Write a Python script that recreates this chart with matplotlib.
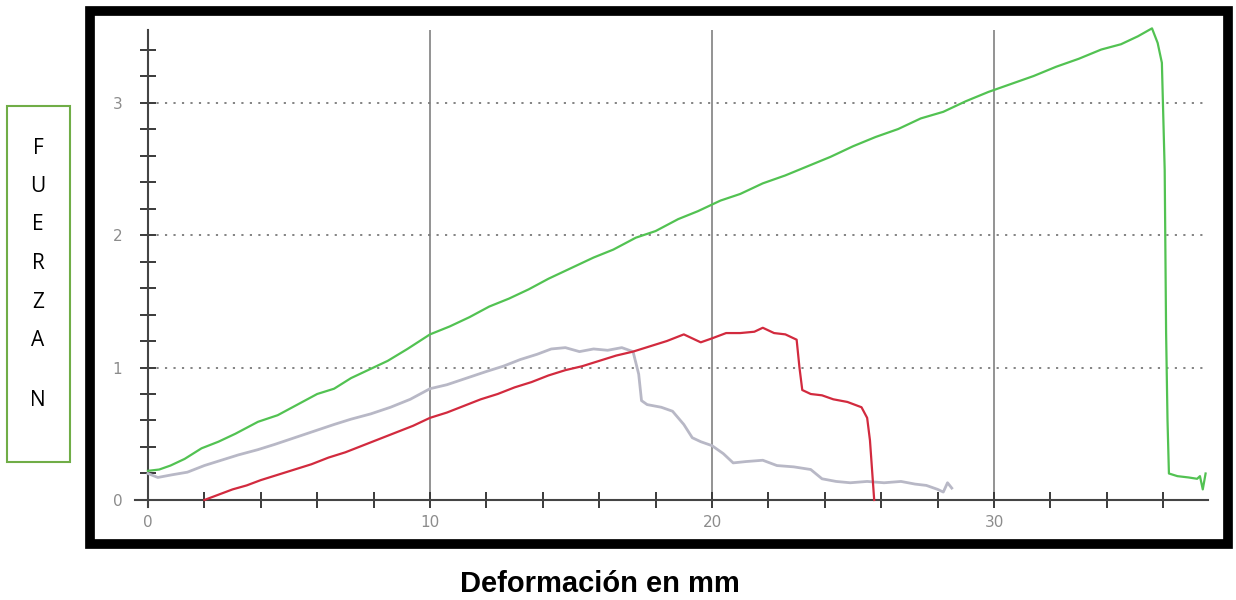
import numpy as np
import matplotlib
matplotlib.use("Agg")
import matplotlib.pyplot as plt
from matplotlib.patches import Rectangle

# --- data (deformation in mm, force in N) ---
green_x = [0.0, 0.4, 0.8, 1.3, 1.9, 2.5, 3.1, 3.9, 4.6, 5.3, 6.0, 6.6, 7.2, 7.9,
           8.5, 9.2, 10.0, 10.7, 11.4, 12.1, 12.8, 13.5, 14.2, 15.0, 15.8, 16.5,
           17.3, 18.0, 18.8, 19.5, 20.3, 21.0, 21.8, 22.6, 23.4, 24.2, 25.0, 25.8,
           26.6, 27.4, 28.2, 29.0, 29.8, 30.6, 31.4, 32.2, 33.0, 33.8, 34.5, 35.1,
           35.6, 35.8, 35.95, 36.05, 36.1, 36.15, 36.2, 36.5, 36.9, 37.2, 37.3,
           37.4, 37.5]
green_y = [0.22, 0.23, 0.26, 0.31, 0.39, 0.44, 0.50, 0.59, 0.64, 0.72, 0.80, 0.84,
           0.92, 0.99, 1.05, 1.14, 1.25, 1.31, 1.38, 1.46, 1.52, 1.59, 1.67, 1.75,
           1.83, 1.89, 1.98, 2.03, 2.12, 2.18, 2.26, 2.31, 2.39, 2.45, 2.52, 2.59,
           2.67, 2.74, 2.80, 2.88, 2.93, 3.01, 3.08, 3.14, 3.20, 3.27, 3.33, 3.40,
           3.44, 3.50, 3.56, 3.45, 3.30, 2.49, 1.26, 0.60, 0.20, 0.18, 0.17, 0.16,
           0.18, 0.08, 0.20]

gray_x = [0.0, 0.35, 0.85, 1.4, 2.0, 2.6, 3.2, 3.9, 4.5, 5.2, 5.9, 6.6, 7.2, 7.9,
          8.6, 9.3, 10.0, 10.6, 11.3, 12.0, 12.6, 13.2, 13.8, 14.3, 14.8, 15.3,
          15.8, 16.3, 16.8, 17.2, 17.4, 17.5, 17.7, 18.2, 18.6, 19.0, 19.3, 19.6,
          20.0, 20.4, 20.75, 21.2, 21.8, 22.3, 22.9, 23.5, 23.9, 24.4, 24.9, 25.5,
          26.1, 26.7, 27.2, 27.6, 28.0, 28.2, 28.35, 28.5]
gray_y = [0.20, 0.17, 0.19, 0.21, 0.26, 0.30, 0.34, 0.38, 0.42, 0.47, 0.52, 0.57,
          0.61, 0.65, 0.70, 0.76, 0.84, 0.87, 0.92, 0.97, 1.01, 1.06, 1.10, 1.14,
          1.15, 1.12, 1.14, 1.13, 1.15, 1.12, 0.95, 0.75, 0.72, 0.70, 0.67, 0.57,
          0.47, 0.44, 0.41, 0.35, 0.28, 0.29, 0.30, 0.26, 0.25, 0.23, 0.16, 0.14,
          0.13, 0.14, 0.13, 0.14, 0.12, 0.11, 0.08, 0.06, 0.13, 0.09]

red_x = [2.0, 2.5, 3.0, 3.5, 4.0, 4.6, 5.2, 5.8, 6.4, 7.0, 7.6, 8.2, 8.8, 9.4,
         10.0, 10.6, 11.2, 11.8, 12.4, 13.0, 13.6, 14.2, 14.8, 15.4, 16.0, 16.6,
         17.2, 17.8, 18.4, 19.0, 19.3, 19.6, 20.0, 20.5, 21.0, 21.5, 21.8, 22.2,
         22.6, 23.0, 23.1, 23.2, 23.5, 23.9, 24.3, 24.8, 25.3, 25.5, 25.6, 25.7,
         25.75]
red_y = [0.00, 0.04, 0.08, 0.11, 0.15, 0.19, 0.23, 0.27, 0.32, 0.36, 0.41, 0.46,
         0.51, 0.56, 0.62, 0.66, 0.71, 0.76, 0.80, 0.85, 0.89, 0.94, 0.98, 1.01,
         1.05, 1.09, 1.12, 1.16, 1.20, 1.25, 1.22, 1.19, 1.22, 1.26, 1.26, 1.27,
         1.30, 1.26, 1.25, 1.21, 1.00, 0.83, 0.80, 0.79, 0.76, 0.74, 0.70, 0.62,
         0.45, 0.15, 0.00]

x_major = [0, 10, 20, 30]
x_minor = list(range(0, 37, 2))
y_major = [0, 1, 2, 3]
y_minor = [round(0.2 * i, 1) for i in range(18)]
side_letters = ["F", "U", "E", "R", "Z", "A", "N"]

W, H = 1236, 600
fig = plt.figure(figsize=(W / 100, H / 100), dpi=100)
fig.patch.set_facecolor("white")

# axes box in pixels: left 100, right 1218, top 20, bottom 540
ax = fig.add_axes([100 / W, 60 / H, 1118 / W, 520 / H])
ax.set_xlim(-1.70, 37.94)
ax.set_ylim(-0.302, 3.623)

# grid
ax.vlines(x_major[1:], 0, 3.55, color="#8a8a8a", lw=1.3, zorder=1)
ax.hlines(y_major[1:], 0, 37.6, color="#7a7a7a", lw=1.3,
          linestyles=(0, (1.2, 3.5)), zorder=1)

ax.plot(gray_x, gray_y, color="#b8b8c6", lw=2.0, zorder=3)
ax.plot(red_x, red_y, color="#d22a3e", lw=1.6, zorder=4)
ax.plot(green_x, green_y, color="#52c252", lw=1.6, zorder=5)

for s in ["top", "right"]:
    ax.spines[s].set_visible(False)
ax.spines["left"].set_position(("data", 0))
ax.spines["bottom"].set_position(("data", 0))
ax.spines["left"].set_bounds(-0.05, 3.55)
ax.spines["bottom"].set_bounds(-0.45, 37.6)
for s in ["left", "bottom"]:
    ax.spines[s].set_color("#444444")
    ax.spines[s].set_linewidth(1.5)

ax.set_xticks(x_major)
ax.set_xticks(x_minor, minor=True)
ax.set_yticks(y_major)
ax.set_yticks(y_minor, minor=True)
ax.tick_params(which="both", direction="inout", length=11, width=1.4,
               color="#3a3a3a")
ax.tick_params(axis="x", which="major", pad=5, labelsize=11, labelcolor="#8c8c8c")
ax.tick_params(axis="y", which="major", pad=13, labelsize=11, labelcolor="#8c8c8c")

# screenshot frame
fig.patches.append(Rectangle((90 / W, 1 - 544 / H), 1138 / W, 533 / H,
                             transform=fig.transFigure, fill=False,
                             edgecolor="black", lw=7, zorder=10))

# side label box
fig.patches.append(Rectangle((7 / W, 1 - 462 / H), 63 / W, 356 / H,
                             transform=fig.transFigure, fill=False,
                             edgecolor="#70ad47", lw=1.5))
letter_rows = [148, 186, 225, 264, 303, 341, 400]
for letter, yp in zip(side_letters, letter_rows):
    fig.text(38 / W, 1 - yp / H, letter, ha="center", va="center",
             fontsize=15, family="Open Sans", color="black")

fig.text(600 / W, 1 - 584 / H, "Deformación en mm", ha="center", va="center",
         fontsize=21, fontweight="bold", family="Liberation Sans")

fig.savefig("out.png", dpi=100)
